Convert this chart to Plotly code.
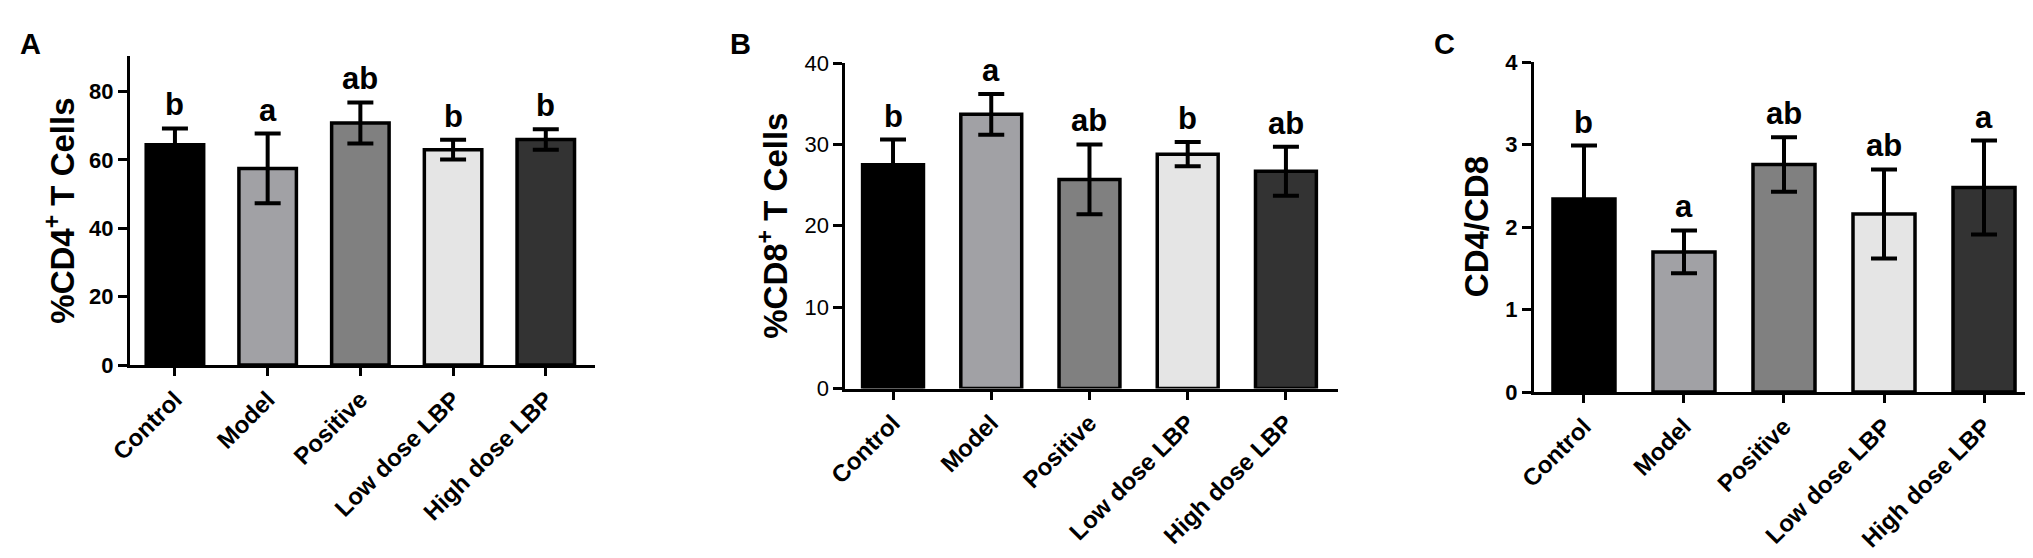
import plotly.graph_objects as go

categories = ["Control", "Model", "Positive", "Low dose LBP", "High dose LBP"]
bar_colors = ["#000000", "#a1a1a5", "#808080", "#e5e5e5", "#333333"]

cd4_mean = [64.4, 57.5, 70.8, 63.0, 66.0]
cd4_sd = [4.8, 10.2, 6.0, 2.9, 3.0]
cd4_letters = ["b", "a", "ab", "b", "b"]

cd8_mean = [27.5, 33.7, 25.7, 28.8, 26.7]
cd8_sd = [3.1, 2.5, 4.3, 1.5, 3.0]
cd8_letters = ["b", "a", "ab", "b", "ab"]

ratio_mean = [2.34, 1.70, 2.76, 2.16, 2.48]
ratio_sd = [0.65, 0.26, 0.33, 0.54, 0.57]
ratio_letters = ["b", "a", "ab", "ab", "a"]

panels = [
    dict(mean=cd4_mean, sd=cd4_sd, letters=cd4_letters, title="%CD4<sup>+</sup> T Cells",
         yrange=[0, 90.3], dtick=20, xdom=[0.0600, 0.2887], ydom=[0.3602, 0.9134],
         xrange=[-0.485, 4.53], title_x=52, tag="A", tag_x=10, tickweight=700),
    dict(mean=cd8_mean, sd=cd8_sd, letters=cd8_letters, title="%CD8<sup>+</sup> T Cells",
         yrange=[0, 40], dtick=10, xdom=[0.4119, 0.6542], ydom=[0.3181, 0.9014],
         xrange=[-0.485, 4.53], title_x=765, tag="B", tag_x=720, tickweight=400),
    dict(mean=ratio_mean, sd=ratio_sd, letters=ratio_letters, title="CD4/CD8",
         yrange=[0, 4], dtick=1, xdom=[0.7506, 0.9946], ydom=[0.3118, 0.9027],
         xrange=[-0.5, 4.46], title_x=1468, tag="C", tag_x=1424, tickweight=700),
]

W, H = 2033, 558
FONT = "Liberation Sans, Arial, sans-serif"

fig = go.Figure()
layout = dict(
    template="none",
    width=W, height=H, margin=dict(l=0, r=0, t=0, b=0, pad=0),
    paper_bgcolor="white", plot_bgcolor="white", showlegend=False,
    annotations=[],
    font=dict(family=FONT, color="black"),
)

for i, p in enumerate(panels):
    n = "" if i == 0 else str(i + 1)
    xa, ya = "x" + n, "y" + n
    fig.add_trace(go.Bar(
        x=list(range(len(categories))), y=p["mean"], xaxis=xa, yaxis=ya,
        width=0.62,
        marker=dict(color=bar_colors, line=dict(color="black", width=3.5)),
        error_y=dict(type="data", array=p["sd"], visible=True, color="black",
                     thickness=4, width=13),
        hoverinfo="skip",
    ))
    layout["xaxis" + n] = dict(
        domain=p["xdom"], anchor=ya, range=p["xrange"], automargin=False,
        tickmode="array", tickvals=list(range(len(categories))), ticktext=categories,
        tickangle=-45, ticks="outside", ticklen=8, tickwidth=2.5, tickcolor="black",
        showline=True, linecolor="black", linewidth=3, showgrid=False, zeroline=False,
        tickfont=dict(family=FONT, size=24, color="black", weight=700),
        fixedrange=True,
    )
    layout["yaxis" + n] = dict(
        domain=p["ydom"], anchor=xa, range=p["yrange"], dtick=p["dtick"], tick0=0,
        automargin=False,
        ticks="outside", ticklen=9, tickwidth=2.5, tickcolor="black",
        showline=True, linecolor="black", linewidth=3, showgrid=False, zeroline=False,
        tickfont=dict(family=FONT, size=22, color="black", weight=p["tickweight"]),
        fixedrange=True,
    )
    # significance letters above error bars
    for k, (m, s, lab) in enumerate(zip(p["mean"], p["sd"], p["letters"])):
        layout["annotations"].append(dict(
            x=k, y=m + s, xref=xa, yref=ya, text=lab, showarrow=False,
            yanchor="bottom", xanchor="center", yshift=4,
            font=dict(family=FONT, size=31, color="black", weight=700),
        ))
    # y-axis title
    yc = (p["ydom"][0] + p["ydom"][1]) / 2
    layout["annotations"].append(dict(
        x=p["title_x"] / W, y=yc, xref="paper", yref="paper", text=p["title"],
        textangle=-90, showarrow=False, xanchor="center", yanchor="middle",
        font=dict(family=FONT, size=33, color="black", weight=700),
    ))
    # panel tag
    layout["annotations"].append(dict(
        x=p["tag_x"] / W, y=1 - 18 / H, xref="paper", yref="paper", text=p["tag"],
        showarrow=False, xanchor="left", yanchor="top",
        font=dict(family=FONT, size=29, color="black", weight=700),
    ))

fig.update_layout(**layout)
fig.write_html("out.html")
